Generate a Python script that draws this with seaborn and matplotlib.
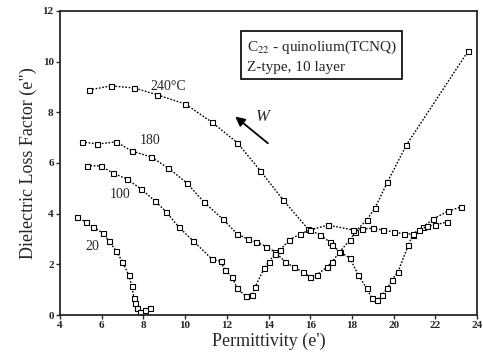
import matplotlib
matplotlib.use("Agg")
import matplotlib.pyplot as plt
import seaborn as sns
import pandas as pd

# curve data (permittivity e', loss factor e")
x_240 = [5.4, 6.45, 7.55, 8.65, 10.0, 11.3, 12.5, 13.6, 14.7, 15.9, 16.47, 16.95,
         17.05, 17.43, 17.9, 18.3, 18.7, 18.96, 19.2, 19.44, 19.7, 19.9, 20.2, 20.7,
         20.9, 21.4, 21.9, 22.6, 23.2]
y_240 = [8.88, 9.04, 8.96, 8.69, 8.33, 7.6, 6.8, 5.7, 4.54, 3.39, 3.16, 2.88,
         2.76, 2.49, 2.25, 1.58, 1.06, 0.67, 0.59, 0.79, 1.06, 1.38, 1.7, 2.76,
         3.16, 3.47, 3.8, 4.1, 4.26]

x_180 = [5.06, 5.8, 6.7, 7.45, 8.36, 9.2, 10.1, 10.9, 11.8, 12.5, 13.0, 13.4,
         13.9, 14.3, 14.8, 15.2, 15.65, 16.0, 16.3, 16.8, 17.05, 17.4, 17.9, 18.15,
         18.7, 19.1, 19.7, 20.6, 23.57]
y_180 = [6.83, 6.75, 6.83, 6.47, 6.24, 5.8, 5.2, 4.46, 3.79, 3.2, 3.0, 2.88,
         2.7, 2.5, 2.1, 1.9, 1.7, 1.5, 1.58, 1.9, 2.1, 2.49, 2.96, 3.28,
         3.75, 4.22, 5.25, 6.7, 10.42]

x_100 = [5.3, 5.97, 6.55, 7.2, 7.9, 8.56, 9.1, 9.7, 10.4, 11.3, 11.7, 11.9,
         12.25, 12.5, 12.9, 13.2, 13.35, 13.8, 14.0, 14.3, 14.55, 15.0, 15.5, 16.0,
         16.85, 18.05, 18.5, 19.0, 19.5, 20.0, 20.5, 20.9, 21.2, 21.6, 22.0, 22.56]
y_100 = [5.9, 5.88, 5.6, 5.37, 4.97, 4.5, 4.07, 3.47, 2.92, 2.2, 2.13, 1.8,
         1.5, 1.06, 0.75, 0.79, 1.1, 1.86, 2.1, 2.4, 2.57, 2.96, 3.2, 3.36,
         3.55, 3.36, 3.4, 3.43, 3.35, 3.28, 3.2, 3.2, 3.35, 3.5, 3.57, 3.67]

x_20 = [4.8, 5.25, 5.6, 6.05, 6.35, 6.7, 7.0, 7.3, 7.45, 7.55, 7.6, 7.7,
        7.85, 8.1, 8.3]
y_20 = [3.87, 3.67, 3.47, 3.24, 2.92, 2.53, 2.1, 1.58, 1.14, 0.67, 0.47, 0.28,
        0.12, 0.2, 0.3]

curves = [("240", x_240, y_240), ("180", x_180, y_180),
          ("100", x_100, y_100), ("20", x_20, y_20)]

sns.set_style("ticks")
plt.rcParams["font.family"] = ["Liberation Serif", "DejaVu Serif"]
plt.rcParams["mathtext.fontset"] = "stix"

fig = plt.figure(figsize=(4.83, 3.61), dpi=100)
ax = fig.add_axes([0.124, 0.127, 0.864, 0.843])

for name, xs, ys in curves:
    df = pd.DataFrame({"e1": xs, "e2": ys})
    sns.lineplot(data=df, x="e1", y="e2", sort=False, estimator=None, ax=ax,
                 color="black", linestyle=(0, (1.2, 1.2)), linewidth=1.0, marker="s",
                 markersize=3.6, markerfacecolor="white", markeredgecolor="black",
                 markeredgewidth=0.8)

ax.set_xlim(4, 24)
ax.set_ylim(0, 12)
ax.set_xticks(range(4, 25, 2))
ax.set_yticks(range(0, 13, 2))
for lab in ax.get_xticklabels() + ax.get_yticklabels():
    lab.set_fontweight("bold")
    lab.set_fontsize(8)
ax.tick_params(direction="out", length=3, width=1, pad=1.5)
for sp in ax.spines.values():
    sp.set_visible(True)
    sp.set_linewidth(1.3)

ax.set_xlabel("Permittivity (e')", fontsize=13, labelpad=2)
ax.set_ylabel('Dielectric Loss Factor (e")', fontsize=13, labelpad=4)

# curve labels
ax.text(9.2, 9.0, "240\u00b0C", fontsize=10, ha="center", va="center")
ax.text(8.3, 6.9, "180", fontsize=10, ha="center", va="center")
ax.text(6.9, 4.74, "100", fontsize=10, ha="center", va="center")
ax.text(5.55, 2.72, "20", fontsize=10, ha="center", va="center")

# frequency arrow
ax.annotate("", xy=(12.3, 7.9), xytext=(14.07, 6.71),
            arrowprops=dict(arrowstyle="-|>", color="black", lw=1.3,
                            mutation_scale=14))
ax.text(13.75, 7.8, "W", fontsize=12, fontstyle="italic", ha="center", va="center")

# sample box
ax.text(12.95, 10.2, "C$_{22}$ - quinolium(TCNQ)\nZ-type, 10 layer", fontsize=11,
        ha="left", va="center", linespacing=1.5,
        bbox=dict(boxstyle="square,pad=0.35", facecolor="white",
                  edgecolor="black", linewidth=1.2))

fig.savefig("out.png", dpi=100)
